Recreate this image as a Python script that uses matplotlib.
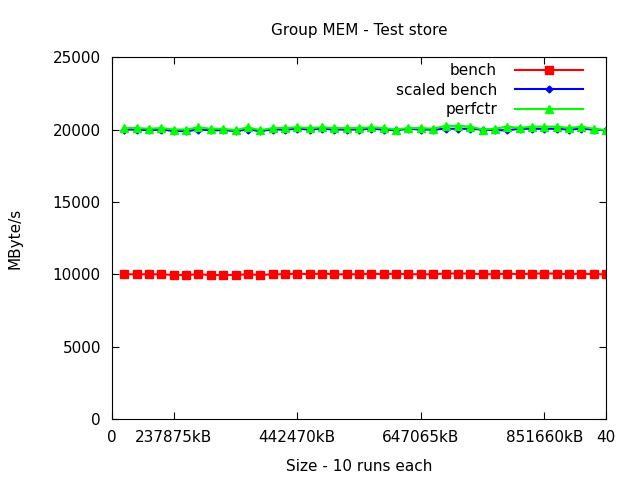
import matplotlib
matplotlib.use('Agg')
import matplotlib.pyplot as plt
import numpy as np

# data (40 runs)
runs = np.arange(1, 41)
bench = [10000, 10000, 10000, 10000, 9950, 9950, 10000, 9950, 9950, 9950,
         10000, 9950, 10000, 10000, 10050, 10000, 10050, 10000, 10000, 10000,
         10050, 10000, 10050, 10000, 10000, 10000, 10050, 10050, 10050, 10000,
         10000, 10050, 10000, 10050, 10050, 10050, 10000, 10050, 10000, 10000]
scaled_bench = [20000, 20000, 19950, 20000, 19900, 19880, 20000, 19950, 19950, 19900,
                20000, 19900, 20000, 20000, 20050, 20000, 20050, 20000, 20000, 20000,
                20050, 20000, 19950, 20050, 20000, 20000, 20050, 20050, 20050, 20000,
                19950, 19950, 20050, 20050, 20050, 20050, 20000, 20050, 20000, 19950]
perfctr = [20100, 20100, 20050, 20100, 20000, 20000, 20150, 20050, 20050, 19950,
           20150, 19950, 20100, 20100, 20150, 20100, 20150, 20100, 20100, 20100,
           20150, 20100, 20000, 20100, 20100, 20050, 20250, 20250, 20200, 20000,
           20050, 20200, 20100, 20200, 20200, 20200, 20100, 20200, 20050, 19950]

xtick_pos = [0, 5, 15, 25, 35, 40]
xtick_labels = ['0', '237875kB', '442470kB', '647065kB', '851660kB', '40']

plt.rcParams.update({'font.family': 'DejaVu Sans', 'font.size': 11})

fig = plt.figure(figsize=(6.4, 4.8), dpi=100)
ax = fig.add_axes([0.175, 0.127, 0.772, 0.754])

ax.plot(runs, bench, '-s', color='#ff0000', lw=1.5, ms=5.5, label='bench')
ax.plot(runs, scaled_bench, '-D', color='#0000ff', lw=1.5, ms=3.5, label='scaled bench')
ax.plot(runs, perfctr, '-^', color='#00ff00', lw=1.5, ms=6, label='perfctr')

ax.set_xlim(0, 40)
ax.set_ylim(0, 25000)
ax.set_xticks(xtick_pos)
ax.set_xticklabels(xtick_labels)
ax.set_yticks(np.arange(0, 25001, 5000))
ax.tick_params(direction='in', top=True, right=True, length=5, pad=8, labelsize=11)

ax.set_title('Group MEM - Test store', fontsize=11, pad=16)
ax.set_xlabel('Size - 10 runs each', fontsize=11, labelpad=10)
ax.set_ylabel('MByte/s', fontsize=11, labelpad=22)

ax.legend(loc='upper right', markerfirst=False, frameon=False, fontsize=11,
          handlelength=4.4, labelspacing=0.3, borderaxespad=0.1, borderpad=0.3,
          handletextpad=1.2, bbox_to_anchor=(0.965, 1.0))

fig.savefig('out.png', dpi=100)
